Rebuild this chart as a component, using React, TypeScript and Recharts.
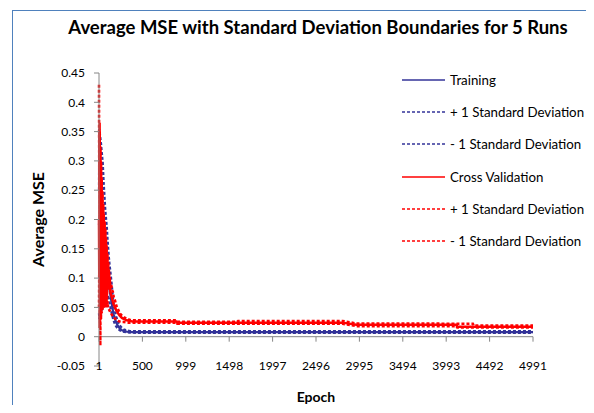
import React from 'react';
import { LineChart, Line, XAxis, YAxis, ReferenceLine, Legend } from 'recharts';

const FONT = "Lato, 'Open Sans', sans-serif";
const BLUE = '#333399';
const RED = '#ff0000';
const AXIS = '#868686';

const epochs = [
  1, 4, 8, 12, 16, 20, 24, 28, 32, 36, 40, 44, 48, 52, 56, 60, 64, 68, 72, 76,
  80, 84, 88, 92, 96, 100, 105, 110, 115, 120, 125, 130, 140, 150, 160, 170, 185, 200, 220, 240,
  265, 290, 320, 350, 385, 420, 460, 500,
  700, 890, 900, 1200, 1590, 1600, 2000, 2400, 2800, 2960, 2970, 3400, 3800, 4110, 4120, 4300, 4310, 4600, 4991,
];

const trainMean = [
  0.19, 0.2, 0.195, 0.19, 0.185, 0.18, 0.176, 0.172, 0.168, 0.164, 0.16, 0.156, 0.152, 0.148, 0.144, 0.14, 0.136, 0.132, 0.128, 0.124,
  0.12, 0.116, 0.112, 0.108, 0.104, 0.1, 0.096, 0.092, 0.088, 0.083, 0.078, 0.073, 0.064, 0.054, 0.045, 0.038, 0.03, 0.024, 0.018, 0.014,
  0.011, 0.0095, 0.0088, 0.0084, 0.008, 0.008, 0.008, 0.008,
  0.008, 0.008, 0.008, 0.008, 0.008, 0.008, 0.008, 0.008, 0.008, 0.008, 0.008, 0.008, 0.008, 0.008, 0.008, 0.008, 0.008, 0.008, 0.008,
];

const trainPlus = [
  0.25, 0.355, 0.35, 0.345, 0.34, 0.335, 0.33, 0.323, 0.316, 0.31, 0.304, 0.298, 0.285, 0.272, 0.26, 0.25, 0.24, 0.23, 0.22, 0.212,
  0.205, 0.198, 0.192, 0.185, 0.175, 0.165, 0.155, 0.145, 0.135, 0.127, 0.12, 0.113, 0.1, 0.085, 0.068, 0.055, 0.043, 0.034, 0.025, 0.019,
  0.015, 0.012, 0.011, 0.01, 0.0095, 0.0095, 0.0095, 0.0095,
  0.0095, 0.0095, 0.0095, 0.0095, 0.0095, 0.0095, 0.0095, 0.0095, 0.0095, 0.0095, 0.0095, 0.0095, 0.0095, 0.0095, 0.0095, 0.0095, 0.0095, 0.0095, 0.0095,
];

const trainMinus = [
  0.04, 0.03, 0.033, 0.035, 0.036, 0.038, 0.04, 0.042, 0.044, 0.046, 0.048, 0.05, 0.052, 0.054, 0.056, 0.057, 0.059, 0.06, 0.061, 0.062,
  0.063, 0.064, 0.065, 0.066, 0.067, 0.068, 0.068, 0.067, 0.064, 0.06, 0.056, 0.052, 0.045, 0.038, 0.032, 0.027, 0.021, 0.017, 0.013, 0.011,
  0.009, 0.008, 0.0075, 0.007, 0.0068, 0.0066, 0.0065, 0.0065,
  0.0065, 0.0065, 0.0065, 0.0065, 0.0065, 0.0065, 0.0065, 0.0065, 0.0065, 0.0065, 0.0065, 0.0065, 0.0065, 0.0065, 0.0065, 0.0065, 0.0065, 0.0065, 0.0065,
];

const cvMean = [
  0.2, 0.1, 0.35, 0.07, 0.32, 0.04, 0.295, 0.05, 0.27, 0.045, 0.245, 0.055, 0.225, 0.05, 0.208, 0.06, 0.195, 0.055, 0.183, 0.065,
  0.168, 0.06, 0.154, 0.07, 0.14, 0.08, 0.126, 0.082, 0.112, 0.08, 0.1, 0.078, 0.072, 0.066, 0.06, 0.055, 0.05, 0.045, 0.04, 0.036,
  0.032, 0.03, 0.028, 0.027, 0.026, 0.026, 0.026, 0.026,
  0.026, 0.026, 0.024, 0.024, 0.024, 0.024, 0.024, 0.024, 0.024, 0.0205, 0.0205, 0.0205, 0.0205, 0.0205, 0.017, 0.017, 0.017, 0.017, 0.017,
];

const cvPlus = [
  0.43, 0.25, 0.365, 0.2, 0.325, 0.15, 0.3, 0.16, 0.272, 0.14, 0.248, 0.13, 0.227, 0.12, 0.21, 0.11, 0.197, 0.11, 0.185, 0.1,
  0.17, 0.1, 0.156, 0.095, 0.142, 0.09, 0.128, 0.088, 0.114, 0.085, 0.103, 0.08, 0.09, 0.08, 0.077, 0.068, 0.062, 0.053, 0.047, 0.04,
  0.036, 0.033, 0.031, 0.029, 0.028, 0.028, 0.028, 0.028,
  0.028, 0.028, 0.0255, 0.0255, 0.0255, 0.027, 0.027, 0.027, 0.027, 0.0225, 0.0225, 0.0225, 0.0225, 0.022, 0.022, 0.022, 0.019, 0.019, 0.019,
];

const cvMinus = [
  0.05, 0.12, 0.015, 0.1, -0.015, 0.1, 0.03, 0.11, 0.04, 0.1, 0.045, 0.1, 0.05, 0.095, 0.048, 0.09, 0.05, 0.09, 0.052, 0.085,
  0.05, 0.085, 0.052, 0.08, 0.05, 0.06, 0.05, 0.048, 0.047, 0.045, 0.044, 0.042, 0.04, 0.037, 0.035, 0.033, 0.031, 0.029, 0.027, 0.026,
  0.025, 0.025, 0.024, 0.024, 0.024, 0.024, 0.024, 0.024,
  0.024, 0.024, 0.022, 0.022, 0.022, 0.022, 0.022, 0.022, 0.022, 0.018, 0.018, 0.018, 0.018, 0.018, 0.0155, 0.0155, 0.0155, 0.0155, 0.0155,
];

const xTicks = [1, 500, 999, 1498, 1997, 2496, 2995, 3494, 3993, 4492, 4991];
const yTicks = [-0.05, 0, 0.05, 0.1, 0.15, 0.2, 0.25, 0.3, 0.35, 0.4, 0.45];

const seriesKeys = ['trainMean', 'trainPlus', 'trainMinus', 'cvMean', 'cvPlus', 'cvMinus'];
const seriesNames = [
  'Training',
  '+ 1 Standard Deviation',
  '- 1 Standard Deviation',
  'Cross Validation',
  '+ 1 Standard Deviation',
  '- 1 Standard Deviation',
];
const seriesColors = [BLUE, BLUE, BLUE, RED, RED, RED];
const seriesDashed = [false, true, true, false, true, true];

const data = epochs.map((e, i) => ({
  epoch: e,
  trainMean: trainMean[i],
  trainPlus: trainPlus[i],
  trainMinus: trainMinus[i],
  cvMean: cvMean[i],
  cvPlus: cvPlus[i],
  cvMinus: cvMinus[i],
}));

const fmtY = (v: number) => String(Number(v.toFixed(2)));

const XTick = (p: any) => (
  <text x={p.x} y={p.y} dy="0.35em" textAnchor="middle" fontFamily={FONT} fontSize={12} fill="#000">
    {p.payload.value}
  </text>
);

const renderLegend = (props: any) => {
  const payload = [...(props.payload || [])].sort(
    (a: any, b: any) => seriesKeys.indexOf(a.dataKey) - seriesKeys.indexOf(b.dataKey)
  );
  return (
    <div style={{ width: 186, overflow: 'visible' }}>
      {payload.map((entry: any, i: number) => {
        const k = seriesKeys.indexOf(entry.dataKey);
        return (
          <div key={i} style={{ display: 'flex', alignItems: 'center', height: 32.2, whiteSpace: 'nowrap' }}>
            <svg width={43} height={4} style={{ marginRight: 5, flex: 'none' }}>
              <line
                x1={0}
                y1={2}
                x2={43}
                y2={2}
                stroke={seriesColors[k]}
                strokeWidth={1.5}
                strokeDasharray={seriesDashed[k] ? '3 2' : undefined}
              />
            </svg>
            <span style={{ fontFamily: FONT, fontSize: 13.3, color: '#000', whiteSpace: 'nowrap' }}>{seriesNames[k]}</span>
          </div>
        );
      })}
    </div>
  );
};

export default function App() {
  return (
    <div style={{ position: 'relative', width: 594, height: 413, margin: -8, background: '#fff', overflow: 'hidden' }}>
      <div
        style={{
          position: 'absolute',
          left: 12,
          top: 10,
          width: 580,
          height: 420,
          border: '1.5px solid #4f81bd',
          boxSizing: 'border-box',
        }}
      />
      <div
        style={{
          position: 'absolute',
          left: 318,
          top: 27,
          transform: 'translate(-50%, -50%)',
          whiteSpace: 'nowrap',
          fontFamily: FONT,
          fontWeight: 700,
          fontSize: 18.5,
          color: '#000',
        }}
      >
        Average MSE with Standard Deviation Boundaries for 5 Runs
      </div>
      <div style={{ position: 'absolute', left: 0, top: 0 }}>
        <LineChart width={594} height={413} data={data} margin={{ top: 73, right: 61, bottom: 0, left: 0 }}>
          <XAxis
            dataKey="epoch"
            type="number"
            domain={[1, 4991]}
            ticks={xTicks}
            interval={0}
            height={47}
            tickSize={0}
            tickMargin={0}
            axisLine={false}
            tickLine={false}
            tick={(p: any) => <XTick {...p} />}
            label={{ value: 'Epoch', position: 'insideBottom', offset: 11, fontFamily: FONT, fontSize: 14, fontWeight: 700, fill: '#000' }}
          />
          <YAxis
            type="number"
            domain={[-0.05, 0.45]}
            ticks={yTicks}
            interval={0}
            width={99}
            tickSize={5}
            tickMargin={9}
            axisLine={{ stroke: AXIS }}
            tickLine={{ stroke: AXIS }}
            tick={{ fill: '#000', fontSize: 12, fontFamily: FONT }}
            tickFormatter={fmtY}
            label={{
              value: 'Average MSE',
              angle: -90,
              position: 'insideLeft',
              offset: 38,
              style: { textAnchor: 'middle' },
              fontFamily: FONT,
              fontSize: 16,
              fontWeight: 700,
              fill: '#000',
            }}
          />
          <ReferenceLine y={0} stroke={AXIS} />
          {xTicks.map((t) => (
            <ReferenceLine
              key={t}
              stroke={AXIS}
              segment={[
                { x: t, y: 0 },
                { x: t, y: -0.0085 },
              ]}
            />
          ))}
          <Legend
            layout="horizontal"
            verticalAlign="middle"
            align="center"
            content={renderLegend}
            wrapperStyle={{ left: 402, top: 64, width: 186 }}
          />
          <Line dataKey="trainMean" name={seriesNames[0]} stroke={BLUE} strokeWidth={2.25} dot={false} isAnimationActive={false} />
          <Line dataKey="trainPlus" name={seriesNames[1]} stroke={BLUE} strokeWidth={2.25} strokeDasharray="3 2" dot={false} isAnimationActive={false} />
          <Line dataKey="trainMinus" name={seriesNames[2]} stroke={BLUE} strokeWidth={2.25} strokeDasharray="3 2" dot={false} isAnimationActive={false} />
          <Line dataKey="cvMean" name={seriesNames[3]} stroke={RED} strokeWidth={2.5} dot={false} isAnimationActive={false} />
          <Line dataKey="cvPlus" name={seriesNames[4]} stroke={RED} strokeWidth={2.5} strokeDasharray="3 2" dot={false} isAnimationActive={false} />
          <Line dataKey="cvMinus" name={seriesNames[5]} stroke={RED} strokeWidth={2.5} strokeDasharray="3 2" dot={false} isAnimationActive={false} />
        </LineChart>
      </div>
    </div>
  );
}
